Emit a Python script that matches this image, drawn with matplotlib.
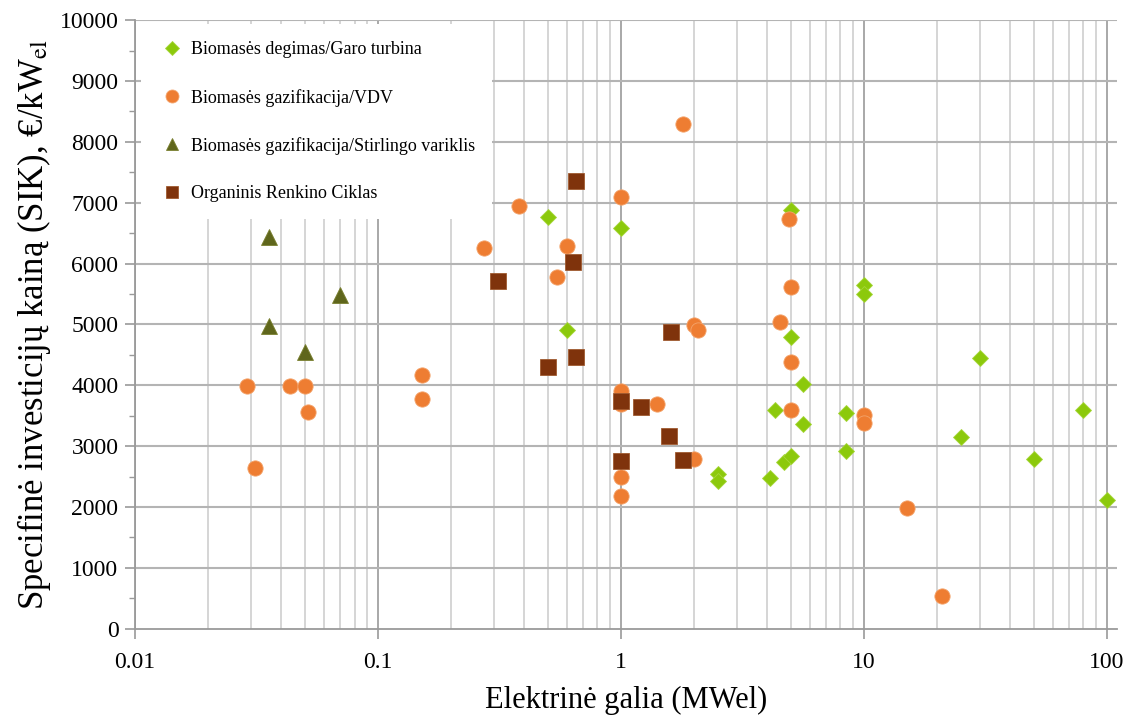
import matplotlib.pyplot as plt
import numpy as np
from matplotlib.ticker import FixedLocator, MultipleLocator, NullFormatter

plt.rcParams['font.family'] = ['Liberation Serif', 'DejaVu Serif']
plt.rcParams['mathtext.fontset'] = 'stix'

# Biomases degimas / Garo turbina
turb_x = [0.5, 1.0, 0.6, 5.0, 10.0, 10.0, 5.0, 5.6, 4.3, 5.6, 8.4, 8.4,
          2.5, 2.5, 4.1, 4.7, 5.0, 25, 30, 50, 80, 100]
turb_y = [6770, 6580, 4910, 6880, 5650, 5500, 4795, 4020, 3600, 3370, 3550, 2920,
          2545, 2430, 2480, 2740, 2840, 3150, 4450, 2790, 3600, 2120]

# Biomases gazifikacija / VDV
vdv_x = [0.029, 0.0434, 0.05, 0.0515, 0.0312, 0.152, 0.152, 0.273, 0.38, 0.545,
         0.6, 1.0, 1.0, 1.0, 1.0, 1.0, 1.4, 1.8, 2.0, 2.07, 2.0, 4.5, 4.9,
         5.0, 5.0, 5.0, 10.0, 10.0, 15, 21]
vdv_y = [3990, 3990, 3990, 3565, 2645, 4170, 3775, 6260, 6950, 5780,
         6290, 7095, 3910, 3700, 2500, 2185, 3690, 8290, 4990, 4910, 2790, 5040, 6730,
         5615, 4380, 3600, 3515, 3385, 1990, 540]

# Biomases gazifikacija / Stirlingo variklis
stir_x = [0.0356, 0.0356, 0.05, 0.07]
stir_y = [6440, 4975, 4550, 5480]

# Organinis Renkino Ciklas
orc_x = [0.312, 0.653, 0.634, 0.5, 0.653, 1.6, 1.0, 1.21, 1.58, 1.8, 1.0]
orc_y = [5710, 7355, 6025, 4300, 4465, 4875, 3745, 3650, 3170, 2775, 2760]

labels = ['Biomasės degimas/Garo turbina', 'Biomasės gazifikacija/VDV',
          'Biomasės gazifikacija/Stirlingo variklis', 'Organinis Renkino Ciklas']

fig = plt.figure(figsize=(11.26, 7.17), dpi=100)
ax = fig.add_axes([0.12, 0.123, 0.872, 0.849])
ax.set_xscale('log')
ax.set_xlim(0.01, 110)
ax.set_ylim(0, 10000)

# grid
minor_x = [m * 10.0 ** e for e in range(-2, 2) for m in range(2, 10)]
for v in minor_x:
    ax.axvline(v, color='#d2d2d2', lw=1.3, zorder=0)
for v in [0.01, 0.1, 1, 10, 100]:
    ax.axvline(v, color='#a8a8a8', lw=1.4, zorder=0)
for v in range(1000, 10001, 1000):
    ax.axhline(v, color='#b4b4b4', lw=1.5, zorder=0)

ax.plot(turb_x, turb_y, 'D', color='#8cc90c', ms=8.3, mec='#a6d63a', mew=0.6,
        ls='none', label=labels[0], zorder=3)
ax.plot(vdv_x, vdv_y, 'o', color='#ee7d32', ms=11, mec='#f4a46c', mew=0.6,
        ls='none', label=labels[1], zorder=3)
ax.plot(stir_x, stir_y, '^', color='#5f661c', ms=11, mec='#7a8030', mew=0.6,
        ls='none', label=labels[2], zorder=3)
ax.plot(orc_x, orc_y, 's', color='#7f330c', ms=11, mec='#a05a30', mew=0.6,
        ls='none', label=labels[3], zorder=4)

leg = ax.legend(loc='upper left', bbox_to_anchor=(-0.003, 1.008), fontsize=13,
                frameon=True, fancybox=False, framealpha=1, labelspacing=1.68,
                handletextpad=0.3, borderpad=0.95, handlelength=1.5, markerscale=0.85)
leg.get_frame().set_edgecolor('none')
leg.get_frame().set_facecolor('white')
leg.set_zorder(2)

for s in ['top', 'right']:
    ax.spines[s].set_visible(False)
for s in ['left', 'bottom']:
    ax.spines[s].set_color('#9a9a9a')
    ax.spines[s].set_linewidth(1.3)

ax.xaxis.set_major_locator(FixedLocator([0.01, 0.1, 1, 10, 100]))
ax.set_xticklabels(['0.01', '0.1', '1', '10', '100'])
ax.xaxis.set_minor_formatter(NullFormatter())
ax.tick_params(axis='x', which='minor', length=0)
ax.yaxis.set_major_locator(MultipleLocator(1000))
ax.yaxis.set_minor_locator(MultipleLocator(500))
ax.tick_params(axis='both', which='major', labelsize=17, length=7, color='#9a9a9a',
               width=1.2)
ax.tick_params(axis='x', which='major', pad=10)
ax.tick_params(axis='y', which='major', pad=5)
ax.tick_params(axis='y', which='minor', length=4, color='#9a9a9a', width=1.0)

ax.set_xlabel('Elektrinė galia (MWel)', fontsize=22, labelpad=9)
ax.set_ylabel(r'Specifinė investicijų kainą (SIK), €/kW$_{\rm el}$', fontsize=25,
              labelpad=5)

fig.savefig('out.png', dpi=100)
